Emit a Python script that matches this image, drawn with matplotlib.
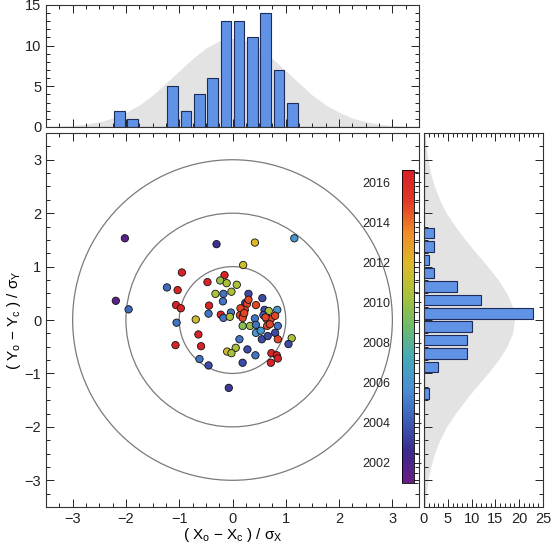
import numpy as np
import matplotlib
matplotlib.use("Agg")
import matplotlib.pyplot as plt
from matplotlib.colors import LinearSegmentedColormap
from matplotlib.patches import Circle
from matplotlib.ticker import MultipleLocator, FormatStrFormatter

plt.rcParams['font.family'] = ['Liberation Sans', 'DejaVu Sans']
plt.rcParams['mathtext.default'] = 'regular'

# normalised offsets of each observation and its epoch
x_off = [-2.02, -0.30, 0.42, 1.16, -2.19, -1.95, 0.20, -0.95, -0.15, -1.23,
         -1.03, -0.47, -0.23, -0.11, 0.08, -0.32, -0.17, -0.02, 0.30, 0.56,
         -0.18, -1.06, -0.97, -0.44, 0.24, 0.27, 0.44, 0.60, 0.68, 0.84,
         -0.45, -0.22, -0.03, -0.17, -0.05, 0.14, 0.20, 0.23, 0.19, 0.42,
         0.58, 0.64, 0.72, 0.80, -0.69, -1.05, 0.19, 0.33, 0.44, 0.65,
         0.85, 0.44, 0.53, 0.80, -0.64, 0.55, 0.85, 1.11, 0.13, 1.05,
         -1.07, -0.59, 0.06, 0.28, -0.10, -0.02, 0.43, 0.73, 0.83, 0.85,
         -0.62, -0.45, 0.19, -0.07, 0.15, 0.22, 0.30, 0.62, 0.70, 0.66,
         0.72]
y_off = [1.53, 1.42, 1.45, 1.53, 0.36, 0.20, 1.03, 0.89, 0.84, 0.61,
         0.56, 0.71, 0.74, 0.69, 0.66, 0.49, 0.49, 0.53, 0.49, 0.41,
         0.35, 0.28, 0.22, 0.27, 0.32, 0.30, 0.28, 0.19, 0.17, 0.19,
         0.12, 0.10, 0.14, 0.04, 0.06, 0.09, 0.08, 0.19, 0.04, 0.03,
         0.09, 0.02, 0.02, 0.08, 0.01, -0.05, -0.11, -0.11, -0.09, -0.11,
         -0.11, -0.24, -0.20, -0.24, -0.27, -0.36, -0.36, -0.34, -0.36, -0.45,
         -0.47, -0.49, -0.52, -0.55, -0.59, -0.62, -0.66, -0.62, -0.66, -0.72,
         -0.73, -0.85, -0.80, -1.27, 0.22, 0.13, 0.38, 0.05, -0.08, -0.30,
         -0.80]
epoch = [2001.5, 2002.8, 2012.0, 2006.0, 2001.5, 2004.5, 2011.5, 2016.3, 2016.3, 2004.5,
         2016.3, 2016.3, 2010.0, 2010.5, 2010.5, 2010.5, 2004.8, 2010.5, 2003.5, 2003.5,
         2004.8, 2016.3, 2016.3, 2016.3, 2003.5, 2014.8, 2014.8, 2003.5, 2010.5, 2006.0,
         2004.8, 2016.3, 2004.8, 2004.8, 2010.5, 2014.8, 2009.5, 2014.8, 2014.8, 2004.8,
         2004.0, 2014.8, 2014.8, 2014.8, 2011.5, 2004.8, 2009.5, 2010.0, 2004.8, 2014.8,
         2004.8, 2006.0, 2006.0, 2003.5, 2016.3, 2003.5, 2014.8, 2010.5, 2004.8, 2003.5,
         2016.3, 2016.3, 2010.5, 2003.5, 2011.5, 2010.5, 2004.8, 2016.3, 2016.3, 2016.3,
         2004.8, 2003.5, 2003.5, 2003.0, 2014.8, 2014.8, 2014.8, 2014.8, 2014.8, 2003.5,
         2016.3]

# expected distribution (grey shading), sampled every 0.25
grid = np.arange(-3.5, 3.51, 0.25)
expect_x = [0.04, 0.09, 0.18, 0.35, 0.64, 1.1, 1.8, 2.7, 3.9, 5.4, 6.9, 8.4, 9.7, 10.6, 10.9,
            10.6, 9.7, 8.4, 6.9, 5.4, 3.9, 2.7, 1.8, 1.1, 0.64, 0.35, 0.18, 0.09, 0.04]
expect_y = [0.27, 0.49, 0.83, 1.4, 2.2, 3.3, 4.7, 6.6, 8.7, 11.0, 13.4, 15.6, 17.4, 18.6, 19.0,
            18.6, 17.4, 15.6, 13.4, 11.0, 8.7, 6.6, 4.7, 3.3, 2.2, 1.4, 0.83, 0.49, 0.27]

bins = np.arange(-3.5, 3.51, 0.25)
circle_radii = [1, 2, 3]
cbar_ticks = [2002, 2004, 2006, 2008, 2010, 2012, 2014, 2016]

rainbow = LinearSegmentedColormap.from_list("rainbow_idl", [
    "#6b1d87", "#3b2a8c", "#3d5fb8", "#4a8fd3", "#45aab8", "#6dbb6a",
    "#a8c23c", "#dcb92a", "#f08c2a", "#e03a26", "#d81f26"])

bar_face = "#6092e6"
bar_edge = "#1e2c5a"
shade = "#e3e3e3"

fig = plt.figure(figsize=(5.53, 5.45), dpi=100)
ax = fig.add_axes([0.0832, 0.0697, 0.6745, 0.6862])
ax_top = fig.add_axes([0.0832, 0.767, 0.6745, 0.2239])
ax_right = fig.add_axes([0.7667, 0.0697, 0.2152, 0.6862])
cax = fig.add_axes([0.727, 0.1138, 0.0217, 0.5743])


def style(a, xmaj, xmin, ymaj, ymin):
    a.xaxis.set_major_locator(MultipleLocator(xmaj))
    a.xaxis.set_minor_locator(MultipleLocator(xmin))
    a.yaxis.set_major_locator(MultipleLocator(ymaj))
    a.yaxis.set_minor_locator(MultipleLocator(ymin))
    a.tick_params(which="both", direction="in", top=True, right=True,
                  width=0.7, labelsize=10.5, colors="#222222")
    a.tick_params(which="major", length=6)
    a.tick_params(which="minor", length=3)
    for s in a.spines.values():
        s.set_linewidth(0.8)
        s.set_color("#333333")


# main scatter
for r in circle_radii:
    ax.add_patch(Circle((0, 0), r, fill=False, ec="#7a7a7a", lw=0.9, zorder=1))
sc = ax.scatter(x_off, y_off, c=epoch, cmap=rainbow, vmin=2001.0, vmax=2016.6,
                s=28, edgecolors="#111111", linewidths=0.6, zorder=3)
ax.set_xlim(-3.5, 3.5)
ax.set_ylim(-3.5, 3.5)
style(ax, 1, 0.25, 1, 0.25)
ax.set_xlabel(r"( X$_o$ $-$ X$_c$ ) / $\sigma_X$", fontsize=11, labelpad=0)
ax.set_ylabel(r"( Y$_o$ $-$ Y$_c$ ) / $\sigma_Y$", fontsize=11, labelpad=1)

# top histogram
ax_top.fill_between(grid, 0, expect_x, color=shade, lw=0, zorder=0)
ax_top.hist(x_off, bins=bins, rwidth=0.8, color=bar_face, edgecolor=bar_edge,
            linewidth=0.8, zorder=2)
ax_top.set_xlim(-3.5, 3.5)
ax_top.set_ylim(0, 15)
style(ax_top, 1, 0.25, 5, 1)
ax_top.tick_params(labelbottom=False)

# right histogram
ax_right.fill_betweenx(grid, 0, expect_y, color=shade, lw=0, zorder=0)
ax_right.hist(y_off, bins=bins, rwidth=0.78, orientation="horizontal",
              color=bar_face, edgecolor=bar_edge, linewidth=0.8, zorder=2)
ax_right.set_ylim(-3.5, 3.5)
ax_right.set_xlim(0, 25)
style(ax_right, 5, 1, 1, 0.25)
ax_right.tick_params(labelleft=False)

# colour bar
cb = fig.colorbar(sc, cax=cax)
cb.set_ticks(cbar_ticks)
cax.yaxis.set_minor_locator(MultipleLocator(0.5))
cax.yaxis.set_major_formatter(FormatStrFormatter("%d"))
cax.tick_params(which="both", direction="out", left=False, right=True,
                labelleft=True, labelright=False, labelsize=9, width=0.7,
                colors="#222222")
cax.tick_params(which="major", length=5)
cax.tick_params(which="minor", length=3)
cb.outline.set_linewidth(0.6)

fig.savefig("out.png", dpi=100)
